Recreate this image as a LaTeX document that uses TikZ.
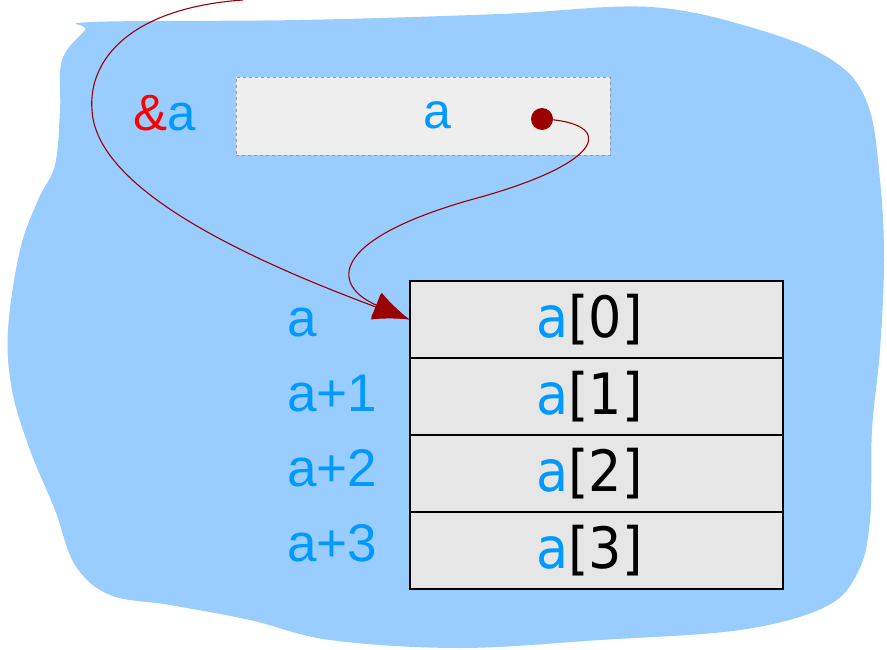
\documentclass[tikz,border=0pt]{standalone}
\usepackage{fontspec}
\setmainfont{Liberation Sans}
\newfontfamily\cellfont[FakeStretch=0.92]{DejaVu Sans}
\usepackage{xcolor}
\usetikzlibrary{arrows.meta, positioning}

\definecolor{memblue}{HTML}{99CCFF}
\definecolor{txtblue}{HTML}{0099FF}
\definecolor{ptrred}{HTML}{990000}
\definecolor{cellgray}{HTML}{E6E6E6}
\definecolor{boxgray}{HTML}{EEEEEE}

\begin{document}
\begin{tikzpicture}[
    x=1pt, y=-1pt,
    lbl/.style={anchor=base west, inner sep=0pt, text=txtblue,
      font=\fontsize{53}{55}\selectfont},
    cell/.style={draw=black, line width=1.1pt, fill=cellgray, minimum width=373pt,
      minimum height=77pt, inner sep=0pt, font=\cellfont\fontsize{57}{59}\selectfont},
    varbox/.style={draw=black!40, dashed, line width=0.9pt, fill=boxgray,
      minimum width=374pt, minimum height=78pt, inner sep=0pt},
    ptr/.style={draw=ptrred, line width=1.1pt, -{Latex[length=36pt, width=27pt]}},
  ]
  \useasboundingbox (0,0) rectangle (887,650);
  % memory blob
  \fill[memblue] plot[smooth cycle, tension=0.6] coordinates {
    (92,22) (300,20) (500,14) (650,7) (760,30) (835,62) (868,105) (880,180)
    (884,260) (880,350) (872,430) (870,520) (858,572) (825,607) (740,630)
    (600,640) (460,648) (330,640) (250,620) (170,605) (110,595) (75,565)
    (55,510) (30,450) (12,390) (8,330) (20,250) (38,200) (55,165) (60,110)
    (62,60) (85,30)};

  % pointer variable
  \node[varbox] (pbox) at (423,116) {};
  \node[font=\fontsize{50}{52}\selectfont, text=txtblue] (pname) at (437,115) {a};
  \node[anchor=base, font=\fontsize{51}{53}\selectfont] (paddr) at (165,131)
    {\textcolor{red}{\&}\textcolor{txtblue}{a}};
  \node[circle, fill=ptrred, minimum size=22pt, inner sep=0pt] (dot) at (542,119) {};

  % array cells
  \foreach \i in {0,...,3} {
    \node[cell] (c\i) at (596.5,{319.5+77*\i}) {\textcolor{txtblue}{a}[\i]\kern14pt};
  }
  \node[lbl] (l0) at (287,336) {a};
  \node[lbl] (l1) at (287,411) {a+1};
  \node[lbl] (l2) at (287,486) {a+2};
  \node[lbl] (l3) at (287,561) {a+3};

  % pointers
  \coordinate (top) at (243,0);
  \draw[ptr] (dot.center) .. controls (614,122) and (612,162) .. (470,200)
    .. controls (330,240) and (330,285) .. (c0.west);
  \draw[ptr] (top) .. controls (130,8) and (88,60) .. (92,110)
    .. controls (96,190) and (250,260) .. (c0.west);
\end{tikzpicture}
\end{document}
